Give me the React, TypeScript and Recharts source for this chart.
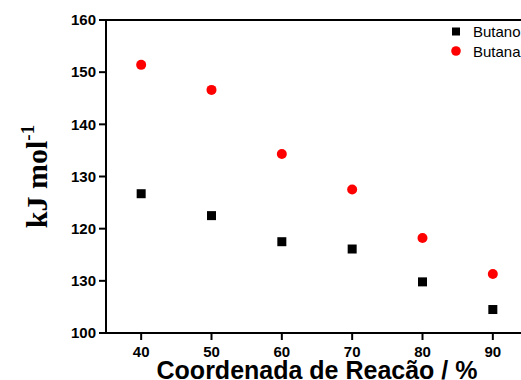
import React from 'react';
import { ScatterChart, Scatter, XAxis, YAxis, Legend, ReferenceLine, Label } from 'recharts';

const coords = [40, 50, 60, 70, 80, 90];
const butano = [126.7, 122.5, 117.5, 116.1, 109.8, 104.5];
const butanal = [151.4, 146.6, 134.3, 127.5, 118.2, 111.3];
const yTicks = [100, 110, 120, 130, 140, 150, 160];
const yTickLabels = ['100', '130', '120', '130', '140', '150', '160'];
const xTicks = [40, 50, 60, 70, 80, 90];
const seriesNames = ['Butano', 'Butanal'];
const seriesColors = ['#000000', '#ff0000'];

const butanoData = coords.map((x, i) => ({ x, y: butano[i] }));
const butanalData = coords.map((x, i) => ({ x, y: butanal[i] }));

const SquareShape = (props: any) => {
  const { cx, cy } = props;
  return <rect x={cx - 4.5} y={cy - 4.5} width={9} height={9} fill="#000000" />;
};
const CircleShape = (props: any) => {
  const { cx, cy } = props;
  return <circle cx={cx} cy={cy} r={5} fill="#ff0000" />;
};

const LegendContent = () => (
  <svg width={100} height={44} style={{ display: 'block', overflow: 'visible' }}>
    {seriesNames.map((name, i) => (
      <g key={name}>
        {i === 0 ? (
          <rect x={4} y={5.5 + i * 19.5} width={8} height={8} fill={seriesColors[i]} />
        ) : (
          <circle cx={8} cy={9.5 + i * 19.5} r={4.8} fill={seriesColors[i]} />
        )}
        <text x={25} y={15 + i * 19.5} fontFamily="Liberation Sans, Arial, sans-serif" fontSize={15} fill="#000">
          {name}
        </text>
      </g>
    ))}
  </svg>
);

const YLabel = (props: any) => {
  const vb = props.viewBox || {};
  const cy = vb.y + vb.height / 2;
  const x = 39;
  return (
    <text
      transform={`translate(${x}, ${cy}) rotate(-90)`}
      textAnchor="middle"
      fontFamily="Liberation Serif, Times New Roman, serif"
      fontWeight="bold"
      fontSize={30}
      fill="#000"
    >
      <tspan>kJ mol</tspan>
      <tspan dy={-13} fontSize={19}>-1</tspan>
    </text>
  );
};

const XLabel = (props: any) => {
  const vb = props.viewBox || {};
  return (
    <text
      x={vb.x + vb.width / 2}
      y={vb.y + 46}
      textAnchor="middle"
      fontFamily="Liberation Sans, Arial, sans-serif"
      fontWeight="bold"
      fontSize={25}
      fill="#000"
    >
      Coordenada de Reacão / %
    </text>
  );
};

const tickStyle = {
  fontFamily: 'Liberation Sans, Arial, sans-serif',
  fontWeight: 'bold',
  fontSize: 15,
  fill: '#000',
};

export default function App() {
  return (
    <div style={{ position: 'absolute', top: 8, left: 8, width: 513, height: 372, overflow: 'hidden', background: '#fff' }}>
      <ScatterChart width={540} height={372} margin={{ top: 12, right: 20, left: 0, bottom: 0 }}>
        <XAxis
          type="number"
          dataKey="x"
          domain={[35, 95]}
          ticks={xTicks}
          allowDataOverflow
          height={47}
          tickSize={7}
          tickMargin={6}
          axisLine={{ stroke: '#000', strokeWidth: 2 }}
          tickLine={{ stroke: '#000', strokeWidth: 2 }}
          tick={tickStyle}
        >
          <Label content={<XLabel />} />
        </XAxis>
        <YAxis
          type="number"
          dataKey="y"
          domain={[100, 160]}
          ticks={yTicks}
          allowDataOverflow
          width={98}
          tickSize={7}
          tickMargin={3}
          tickFormatter={(v: number) => yTickLabels[yTicks.indexOf(v)] ?? String(v)}
          axisLine={{ stroke: '#000', strokeWidth: 2 }}
          tickLine={{ stroke: '#000', strokeWidth: 2 }}
          tick={tickStyle}
        >
          <Label content={<YLabel />} />
        </YAxis>
        <ReferenceLine y={160} stroke="#000" strokeWidth={2} />
        <Legend
          layout="vertical"
          align="center"
          verticalAlign="middle"
          content={<LegendContent />}
          wrapperStyle={{ position: 'absolute', top: 14, left: 440, width: 100, height: 44 }}
        />
        <Scatter name={seriesNames[0]} data={butanoData} shape={<SquareShape />} isAnimationActive={false} />
        <Scatter name={seriesNames[1]} data={butanalData} shape={<CircleShape />} isAnimationActive={false} />
      </ScatterChart>
    </div>
  );
}
